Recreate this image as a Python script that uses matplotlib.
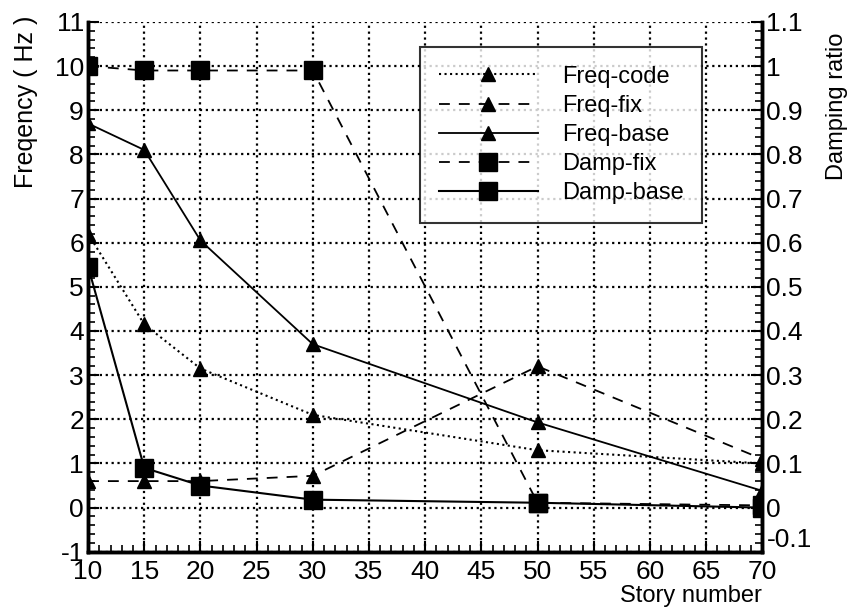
import matplotlib
matplotlib.use('Agg')
from matplotlib import pyplot as plt
from matplotlib.ticker import MultipleLocator, FormatStrFormatter
from matplotlib.transforms import ScaledTranslation

# story numbers and results
stories = [10, 15, 20, 30, 50, 70]
freq_code = [6.2, 4.15, 3.15, 2.1, 1.3, 1.0]
freq_fix = [0.6, 0.6, 0.6, 0.72, 3.2, 1.1]
freq_base = [8.7, 8.1, 6.05, 3.7, 1.93, 0.38]
damp_fix = [1.0, 0.99, 0.99, 0.99, 0.011, 0.005]
damp_base = [0.546, 0.09, 0.05, 0.018, 0.011, 0.0]

plt.rcParams['font.family'] = ['Liberation Sans', 'DejaVu Sans']
plt.rcParams['axes.unicode_minus'] = False

fig = plt.figure(figsize=(8.47, 6.09), dpi=100)
ax = fig.add_axes([0.104, 0.094, 0.796, 0.870])
ax2 = ax.twinx()

ms_tri = 10
ms_sq = 13
h1, = ax.plot(stories, freq_code, color='black', ls=':', lw=1.5, marker='^', ms=ms_tri, label='Freq-code')
h2, = ax.plot(stories, freq_fix, color='black', ls=(0, (6, 5)), lw=1.3, marker='^', ms=ms_tri, label='Freq-fix')
h3, = ax.plot(stories, freq_base, color='black', ls='-', lw=1.3, marker='^', ms=ms_tri, label='Freq-base')
h4, = ax2.plot(stories, damp_fix, color='black', ls=(0, (6, 5)), lw=1.3, marker='s', ms=ms_sq, label='Damp-fix')
h5, = ax2.plot(stories, damp_base, color='black', ls='-', lw=1.5, marker='s', ms=ms_sq, label='Damp-base')

ax.set_xlim(10, 70)
ax.set_ylim(-1, 11)
ax2.set_ylim(-0.1, 1.1)

ax.xaxis.set_major_locator(MultipleLocator(5))
ax.xaxis.set_minor_locator(MultipleLocator(1))
ax.yaxis.set_major_locator(MultipleLocator(1))
ax.yaxis.set_minor_locator(MultipleLocator(0.2))
ax2.yaxis.set_major_locator(MultipleLocator(0.1))
ax2.yaxis.set_minor_locator(MultipleLocator(0.02))
ax2.yaxis.set_major_formatter(FormatStrFormatter('%g'))

ax.grid(True, which='major', color='black', ls=':', lw=1.6)
ax.tick_params(axis='both', which='major', direction='in', length=8, width=1.5, labelsize=19)
ax.tick_params(axis='both', which='minor', direction='in', length=5, width=1.2)
ax.tick_params(axis='x', pad=6)
ax.tick_params(axis='y', pad=3)
ax2.tick_params(axis='y', which='major', direction='in', length=8, width=1.5, labelsize=19, pad=3)
ax2.tick_params(axis='y', which='minor', direction='in', length=5, width=1.2)
ax.tick_params(top=False)

for a in (ax, ax2):
    a.spines['top'].set_visible(False)
    a.spines['left'].set_linewidth(2.5)
    a.spines['bottom'].set_linewidth(2.5)
    a.spines['right'].set_linewidth(2.5)

# lift the bottom y labels (-1 and -0.1) off the x tick labels
fig.canvas.draw()
lab_m1 = ax.get_yticklabels()[0]
lab_m1.set_va('bottom')
lab_m1.set_transform(lab_m1.get_transform() + ScaledTranslation(-6 / 100, 0, fig.dpi_scale_trans))
for lab in ax2.get_yticklabels():
    if lab.get_text() == '-0.1':
        lab.set_va('bottom')

ax.set_ylabel('Freqency ( Hz )', fontsize=18)
ax.yaxis.set_label_coords(-0.074, 0.85)
ax2.set_ylabel('Damping ratio', fontsize=17)
ax2.yaxis.set_label_coords(1.095, 0.84)
ax.set_xlabel('Story number', fontsize=17, ha='right')
ax.xaxis.set_label_coords(1.0, -0.062)

leg = ax2.legend(handles=[h1, h2, h3, h4, h5], loc='upper right',
                 bbox_to_anchor=(0.911, 0.953), borderaxespad=0, fontsize=17,
                 handlelength=4.2, frameon=True, fancybox=False, edgecolor='black',
                 labelspacing=0.3, borderpad=0.8, handletextpad=1.0)
leg.get_frame().set_linewidth(1.5)

fig.savefig('out.png', dpi=100, facecolor='white')
